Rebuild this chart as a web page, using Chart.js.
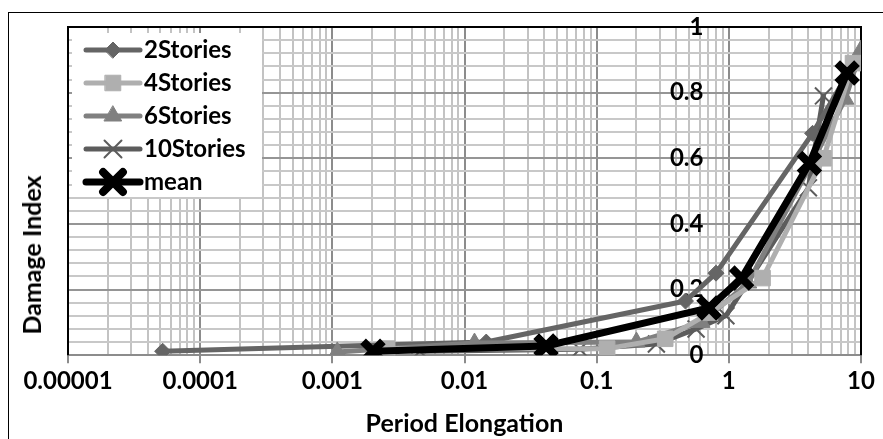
<!DOCTYPE html>
<html>
<head>
<meta charset="utf-8">
<script src="https://cdn.jsdelivr.net/npm/chart.js@4.4.1/dist/chart.umd.min.js"></script>
<style>
body{margin:0;background:#fff}
#wrap{position:relative;width:883px;height:439px;overflow:hidden}
#frame{position:absolute;left:8px;top:12px;width:900px;height:500px;border:1px solid #000}
#chart{position:absolute;left:0;top:0}
#ytitle{position:absolute;left:31px;top:255px;transform:translate(-50%,-50%) rotate(-90deg);font:bold 25px Lato,sans-serif;white-space:nowrap;color:#000}
</style>
</head>
<body>
<div id="wrap">
<div id="frame"></div>
<canvas id="chart" width="883" height="439"></canvas>
<div id="ytitle">Damage Index</div>
</div>
<script>
// values
const names=["2Stories","4Stories","6Stories","10Stories","mean"];
const x2s=[0.000052,0.0146,0.47,0.8,4.3,8.3];
const y2s=[0.012,0.04,0.165,0.25,0.676,0.87];
const x4s=[0.0026,0.12,0.33,0.72,1.8,5.2,8.7];
const y4s=[0.02,0.02,0.05,0.13,0.235,0.60,0.89];
const x6s=[0.00109,0.0119,0.2,0.62,1.4,7.6,10];
const y6s=[0.01,0.037,0.04,0.1,0.22,0.78,0.93];
const x10s=[0.0046,0.0745,0.283,0.565,0.95,4.0,5.2];
const y10s=[0.012,0.018,0.034,0.08,0.12,0.51,0.79];
const xMean=[0.00203,0.0414,0.708,1.25,4.07,7.85];
const yMean=[0.012,0.028,0.144,0.235,0.584,0.86];

const xDecades=[0.00001,0.0001,0.001,0.01,0.1,1,10];
const xTickLabels=["0.00001","0.0001","0.001","0.01","0.1","1","10"];
const yTickValues=[0,0.2,0.4,0.6,0.8,1];
const yTickLabels=["0","0.2","0.4","0.6","0.8","1"];

const FONT="Lato, 'Open Sans', sans-serif";
const bold24={family:FONT,size:24,weight:"bold"};
const bold25={family:FONT,size:25,weight:"bold"};

// grid positions: 1..9 per decade, 0.04 steps on y
const xGrid=[];
xDecades.forEach((d,i)=>{
  if(i===xDecades.length-1){xGrid.push(d);return;}
  for(let m=1;m<10;m++) xGrid.push(m*d);
});
const yGrid=[];
for(let k=0;k<=25;k++) yGrid.push(k*0.04);

const isDecade=v=>xDecades.some(d=>Math.abs(v-d)/d<1e-6);
const isMajorY=v=>Math.abs(v/0.2-Math.round(v/0.2))<1e-6;
const pts=(xs,ys)=>xs.map((x,i)=>({x,y:ys[i]}));

function series(label,data,color,style,r,pbw,lw,order){
  return {label,data,borderColor:color,backgroundColor:color,borderWidth:lw,
    pointStyle:style,pointRadius:r,pointBackgroundColor:color,pointBorderColor:color,
    pointBorderWidth:pbw,borderJoinStyle:"round",borderCapStyle:"round",order};
}

const frame={
  id:"frame",
  beforeDatasetsDraw(chart){
    const {ctx,chartArea:a}=chart;
    ctx.save();
    ctx.strokeStyle="#000";ctx.lineWidth=2;
    ctx.beginPath();
    ctx.moveTo(a.left,a.bottom);ctx.lineTo(a.left,a.top);
    ctx.lineTo(a.right,a.top);ctx.lineTo(a.right,a.bottom);
    ctx.stroke();
    ctx.restore();
  }
};

const boxLegend={
  id:"boxLegend",
  afterDraw(chart){
    const {ctx,chartArea:a}=chart;
    ctx.save();
    ctx.fillStyle="#fff";
    ctx.fillRect(a.left+4,a.top+6,190,164);
    chart.data.datasets.forEach((ds,i)=>{
      const y=a.top+23+i*33,x0=a.left+18;
      ctx.strokeStyle=ds.borderColor;ctx.lineWidth=ds.borderWidth;ctx.lineCap="round";
      ctx.beginPath();ctx.moveTo(x0,y);ctx.lineTo(x0+54,y);ctx.stroke();
      ctx.fillStyle=ds.pointBackgroundColor;ctx.strokeStyle=ds.pointBorderColor;ctx.lineWidth=ds.pointBorderWidth;
      Chart.helpers.drawPoint(ctx,{pointStyle:ds.pointStyle,radius:ds.pointRadius,borderWidth:ds.pointBorderWidth,rotation:0},x0+27,y);
      ctx.fillStyle="#000";ctx.font="bold 24px "+FONT;ctx.textBaseline="middle";ctx.textAlign="left";
      ctx.fillText(ds.label,x0+58,y);
    });
    ctx.restore();
  }
};

new Chart(document.getElementById("chart"),{
  type:"line",
  data:{datasets:[
    series(names[0],pts(x2s,y2s),"#656565","rectRot",8,1,5,3),
    series(names[1],pts(x4s,y4s),"#afafaf","rect",11,1,5,1),
    series(names[2],pts(x6s,y6s),"#808080","triangle",10,1,5,2),
    series(names[3],pts(x10s,y10s),"#5c5c5c","crossRot",12,2,5,4),
    series(names[4],pts(xMean,yMean),"#000000","crossRot",14,8,7,-1)
  ]},
  options:{
    responsive:false,animation:false,events:[],
    layout:{padding:{left:68,top:27,right:18,bottom:0}},
    plugins:{legend:{display:false},tooltip:{enabled:false}},
    scales:{
      x:{type:"logarithmic",min:0.00001,max:10,
        afterBuildTicks(s){s.ticks=xGrid.map(v=>({value:v}));},
        grid:{lineWidth:2,color:c=>isDecade(c.tick.value)?"#8c8c8c":"#c3c3c3",
          tickLength:8,tickWidth:2,tickColor:c=>isDecade(c.tick.value)?"#8c8c8c":"rgba(0,0,0,0)"},
        border:{color:"#8c8c8c",width:2},
        ticks:{autoSkip:false,maxRotation:0,padding:4,color:"#000",font:bold24,
          callback:v=>{const k=xDecades.findIndex(d=>Math.abs(v-d)/d<1e-6);return k<0?"":xTickLabels[k];}},
        title:{display:true,text:"Period Elongation",color:"#000",font:bold25,padding:{top:9,bottom:0}}
      },
      y:{type:"linear",min:0,max:1,
        afterBuildTicks(s){s.ticks=yGrid.map(v=>({value:v}));},
        grid:{lineWidth:2,drawTicks:false,color:c=>isMajorY(c.tick.value)?"#959595":"#c8c8c8"},
        border:{display:false},
        ticks:{display:false}
      },
      yLab:{type:"linear",axis:"y",min:0,max:1,position:{x:0.643},
        afterBuildTicks(s){s.ticks=yTickValues.map(v=>({value:v}));},
        grid:{display:false},border:{display:false},
        ticks:{color:"#000",font:bold24,padding:0,callback:(v,i)=>yTickLabels[i]}
      }
    }
  },
  plugins:[frame,boxLegend]
});
</script>
</body>
</html>
